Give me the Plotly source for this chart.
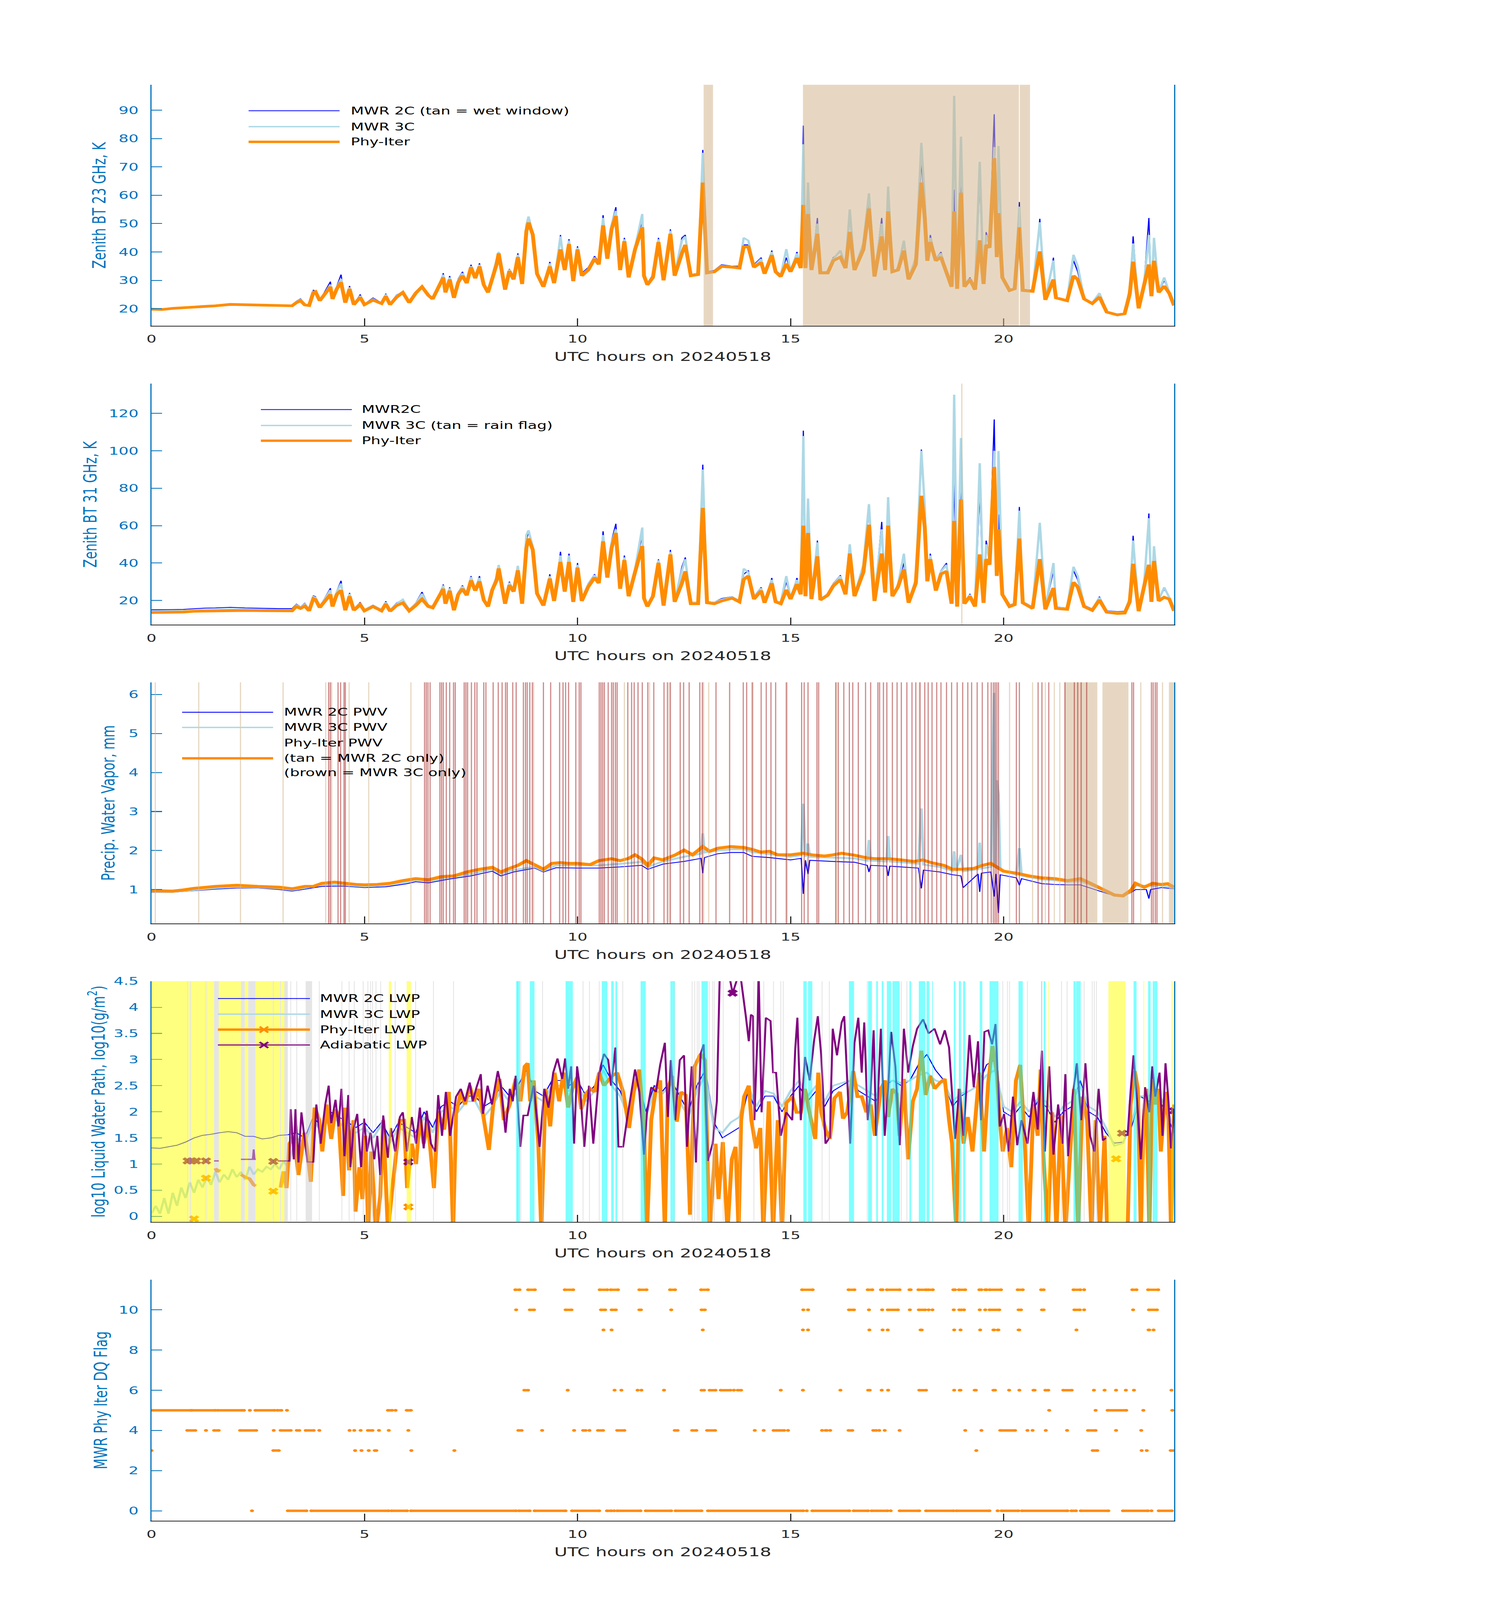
import plotly.graph_objects as go

# ======================= DATA =======================
T_BT = [
    0, 0.25, 0.5, 0.75, 1.0, 1.25, 1.5, 1.85, 2.2, 2.6,
    3.0, 3.3, 3.4, 3.5, 3.6, 3.7, 3.8, 3.85, 3.95, 4.05,
    4.2, 4.25, 4.35, 4.45, 4.55, 4.65, 4.75, 4.9, 5.0, 5.2,
    5.4, 5.5, 5.6, 5.75, 5.9, 6.05, 6.2, 6.35, 6.5, 6.6,
    6.75, 6.85, 6.9, 7.0, 7.1, 7.2, 7.3, 7.4, 7.5, 7.6,
    7.7, 7.8, 7.9, 8.0, 8.1, 8.15, 8.3, 8.4, 8.5, 8.6,
    8.7, 8.8, 8.85, 8.95, 9.05, 9.2, 9.35, 9.45, 9.6, 9.7,
    9.8, 9.9, 10.0, 10.1, 10.25, 10.4, 10.5, 10.6, 10.7, 10.8,
    10.9, 11.0, 11.1, 11.2, 11.35, 11.52, 11.56, 11.64, 11.77, 11.9,
    12.02, 12.18, 12.28, 12.45, 12.53, 12.66, 12.83, 12.94, 13.04, 13.21,
    13.38, 13.63, 13.8, 13.9, 14.01, 14.14, 14.31, 14.39, 14.56, 14.65,
    14.77, 14.9, 15.0, 15.15, 15.24, 15.3, 15.35, 15.41, 15.49, 15.63,
    15.7, 15.87, 16.0, 16.17, 16.29, 16.39, 16.5, 16.71, 16.84, 16.97,
    17.14, 17.22, 17.29, 17.39, 17.52, 17.66, 17.77, 17.94, 18.07, 18.15,
    18.21, 18.28, 18.41, 18.53, 18.66, 18.78, 18.84, 18.91, 19.0, 19.08,
    19.21, 19.33, 19.44, 19.53, 19.59, 19.67, 19.78, 19.84, 19.88, 19.97,
    20.14, 20.26, 20.37, 20.45, 20.68, 20.85, 20.98, 21.17, 21.23, 21.49,
    21.64, 21.74, 21.89, 22.08, 22.25, 22.42, 22.67, 22.84, 22.96, 23.04,
    23.17, 23.3, 23.41, 23.47, 23.53, 23.64, 23.77, 23.89, 24.0,
]

BT23_PHY = [
    19.8, 19.7, 20.1, 20.3, 20.6, 20.9, 21.0, 21.5, 21.4, 21.1,
    21.0, 21.0, 22.1, 22.8, 21.3, 21.1, 25.7, 26.0, 22.8, 24.7,
    27.7, 23.4, 27.0, 29.3, 22.1, 27.0, 21.4, 24.0, 21.4, 23.0,
    21.8, 24.4, 21.4, 24.0, 25.7, 22.1, 25.4, 27.7, 24.7, 23.4,
    27.7, 31.0, 25.7, 30.3, 23.8, 29.3, 31.6, 29.0, 34.6, 30.7,
    34.9, 28.4, 25.7, 31.0, 35.6, 39.5, 26.7, 33.3, 30.3, 38.2,
    28.7, 47.4, 50.4, 46.1, 32.3, 27.7, 34.9, 29.0, 40.9, 33.6,
    42.8, 29.7, 40.9, 31.6, 33.6, 37.6, 35.6, 49.4, 37.6, 48.1,
    52.7, 33.6, 43.8, 31.0, 40.9, 48.7, 31.6, 28.4, 31.0, 43.5,
    30.0, 46.4, 31.6, 39.5, 42.5, 31.6, 32.0, 64.5, 32.6, 33.0,
    34.9, 34.6, 34.3, 41.8, 41.8, 34.6, 36.3, 32.3, 38.9, 33.0,
    31.3, 35.9, 33.0, 37.9, 34.3, 56.6, 34.3, 53.4, 33.6, 46.4,
    32.6, 32.6, 36.9, 38.2, 34.3, 47.1, 33.6, 40.9, 55.3, 31.3,
    45.5, 33.6, 54.3, 33.0, 33.6, 40.5, 30.3, 35.6, 64.5, 52.0,
    36.9, 43.5, 36.9, 38.2, 32.3, 27.7, 54.3, 27.0, 60.9, 27.7,
    30.3, 26.7, 44.1, 28.7, 42.5, 41.5, 73.1, 38.2, 53.7, 31.0,
    26.4, 27.0, 48.7, 26.4, 26.1, 40.2, 23.1, 30.3, 23.8, 22.8,
    31.6, 30.3, 23.4, 21.8, 24.1, 18.8, 17.8, 18.2, 25.1, 36.6,
    20.1, 28.4, 35.6, 24.4, 36.9, 25.7, 28.0, 25.4, 21.1,
]

BT23_2C = [
    20.0, 19.9, 20.2, 20.5, 20.8, 21.0, 21.2, 21.7, 21.5, 21.2,
    21.1, 21.2, 22.6, 23.5, 21.5, 21.3, 26.5, 26.3, 23.0, 25.5,
    29.5, 23.8, 28.0, 32.0, 22.3, 28.0, 21.5, 25.0, 21.6, 23.8,
    22.0, 25.3, 21.6, 24.8, 26.0, 22.5, 26.0, 28.0, 25.0, 23.8,
    28.5, 32.5, 26.0, 31.5, 24.2, 30.5, 33.0, 29.5, 35.5, 31.5,
    36.0, 29.0, 26.0, 32.0, 37.0, 40.0, 27.0, 34.0, 31.0, 39.5,
    29.5, 50.0, 52.5, 47.0, 33.0, 28.0, 36.5, 29.5, 46.0, 34.5,
    44.5, 30.0, 42.0, 32.5, 34.5, 38.5, 36.5, 53.0, 38.5, 50.0,
    55.8, 34.5, 45.0, 31.5, 42.0, 51.0, 32.0, 29.0, 32.0, 45.0,
    30.5, 48.0, 32.5, 45.0, 46.0, 32.0, 32.5, 76.0, 33.0, 33.5,
    35.5, 35.0, 35.0, 42.5, 42.5, 35.5, 38.0, 33.0, 40.5, 33.5,
    32.0, 38.0, 33.5, 40.0, 35.0, 84.6, 35.0, 58.0, 34.0, 52.0,
    33.0, 33.0, 38.0, 40.0, 35.0, 52.0, 34.0, 42.0, 58.0, 32.0,
    52.0, 34.0, 60.0, 33.5, 34.0, 43.0, 30.5, 37.0, 72.0, 55.0,
    37.5, 46.0, 37.5, 40.0, 33.0, 28.0, 62.0, 27.5, 65.0, 28.0,
    31.0, 27.0, 65.0, 29.0, 47.0, 43.0, 88.6, 40.0, 70.0, 31.5,
    26.8, 27.3, 57.6, 26.8, 26.5, 51.7, 23.5, 38.0, 24.0, 23.0,
    37.0, 33.0, 23.8, 22.0, 25.0, 19.0, 18.0, 18.4, 26.0, 45.5,
    20.3, 30.0, 52.0, 24.8, 44.0, 26.0, 30.0, 25.8, 21.3,
]

BT23_3C = [
    19.9, 19.8, 20.1, 20.4, 20.7, 21.0, 21.1, 21.6, 21.5, 21.1,
    21.0, 21.1, 22.4, 23.2, 21.4, 21.2, 26.0, 26.2, 22.9, 25.0,
    28.5, 23.6, 27.5, 30.5, 22.2, 27.5, 21.5, 24.5, 21.5, 23.4,
    21.9, 25.0, 21.5, 24.5, 26.0, 22.3, 25.8, 28.0, 24.8, 23.6,
    28.0, 32.0, 25.8, 31.0, 24.0, 30.0, 32.5, 29.2, 35.0, 31.0,
    35.5, 28.6, 25.8, 31.5, 36.5, 40.0, 26.8, 33.8, 30.6, 39.0,
    29.0, 49.5, 52.5, 46.5, 32.6, 27.9, 36.0, 29.2, 45.5, 34.0,
    44.0, 29.9, 41.5, 32.0, 34.0, 38.0, 36.0, 52.0, 38.0, 49.5,
    54.5, 34.0, 44.5, 31.2, 41.5, 53.4, 31.8, 28.7, 31.5, 44.5,
    30.2, 47.5, 32.0, 44.0, 45.5, 31.8, 32.3, 75.0, 32.8, 33.2,
    35.2, 34.8, 34.6, 45.0, 44.0, 35.0, 37.5, 32.6, 40.0, 33.2,
    31.6, 41.0, 33.3, 39.5, 34.8, 78.0, 34.8, 64.5, 33.8, 50.0,
    32.8, 32.8, 37.5, 40.5, 34.8, 55.0, 33.8, 43.0, 60.7, 31.6,
    50.0, 33.8, 63.1, 33.2, 34.0, 44.0, 30.5, 38.0, 78.5, 58.0,
    37.2, 45.0, 37.2, 39.5, 32.6, 28.0, 95.1, 27.3, 80.7, 28.0,
    30.6, 27.0, 71.8, 29.0, 46.0, 42.5, 77.0, 38.5, 77.4, 31.2,
    26.6, 27.2, 56.0, 26.6, 26.3, 50.5, 23.3, 37.0, 24.0, 23.0,
    39.0, 35.0, 23.6, 22.0, 25.5, 19.0, 18.0, 18.3, 27.0, 43.0,
    20.3, 29.5, 46.0, 24.6, 45.0, 26.0, 31.0, 25.6, 21.2,
]

BT31_PHY = [
    13.5, 13.5, 13.6, 13.8, 14.2, 14.3, 14.4, 14.7, 14.6, 14.5,
    14.4, 14.4, 16.7, 15.7, 17.0, 14.4, 21.0, 20.5, 16.2, 19.2,
    23.2, 16.7, 23.2, 25.4, 14.7, 22.2, 14.7, 17.7, 14.4, 16.7,
    14.4, 18.2, 14.2, 17.2, 18.7, 14.4, 17.2, 20.7, 16.7, 16.0,
    21.7, 26.2, 18.2, 25.2, 14.7, 23.2, 26.2, 22.7, 30.7, 25.2,
    30.2, 20.2, 16.7, 25.7, 30.7, 37.1, 18.2, 28.2, 24.7, 36.1,
    18.2, 48.1, 53.1, 47.1, 23.7, 17.2, 31.7, 19.7, 40.6, 24.7,
    40.6, 19.2, 37.6, 19.7, 27.2, 32.2, 29.2, 51.6, 32.2, 48.1,
    56.1, 26.2, 41.6, 22.2, 35.1, 49.1, 21.2, 16.7, 22.2, 40.1,
    17.2, 44.6, 19.2, 29.2, 35.6, 18.2, 18.2, 69.5, 18.7, 18.2,
    19.7, 21.2, 19.2, 31.2, 33.1, 20.7, 25.2, 18.7, 29.2, 19.2,
    18.2, 25.7, 20.7, 28.7, 23.2, 60.0, 22.2, 56.1, 20.7, 43.6,
    20.2, 22.7, 27.7, 31.2, 23.2, 45.1, 22.2, 35.1, 60.5, 19.7,
    45.1, 24.2, 60.0, 22.2, 27.2, 36.6, 18.7, 29.2, 76.0, 59.0,
    30.2, 42.1, 25.2, 34.1, 35.6, 18.2, 62.5, 16.7, 74.0, 18.2,
    22.2, 16.7, 44.6, 18.7, 42.1, 39.1, 91.4, 33.1, 58.0, 23.2,
    16.7, 17.7, 53.1, 18.7, 15.7, 42.1, 15.2, 26.7, 15.7, 15.2,
    29.7, 27.2, 16.7, 14.7, 20.2, 13.7, 13.0, 13.2, 19.2, 39.6,
    14.2, 27.2, 39.1, 19.2, 41.1, 19.7, 21.7, 20.7, 14.4,
]

BT31_2C = [
    15.0, 15.0, 15.1, 15.2, 15.6, 15.9, 16.0, 16.3, 16.0, 15.8,
    15.6, 15.6, 18.0, 16.5, 18.5, 15.4, 22.5, 22.0, 17.0, 20.5,
    26.5, 17.5, 25.0, 30.5, 15.5, 24.0, 15.5, 19.0, 15.2, 17.5,
    15.2, 19.5, 15.0, 18.5, 20.5, 15.2, 18.5, 24.5, 17.5, 16.8,
    23.0, 28.5, 19.0, 27.0, 15.5, 24.5, 28.0, 24.0, 33.0, 26.5,
    33.0, 21.0, 17.5, 27.0, 33.0, 39.0, 19.0, 30.0, 25.5, 38.0,
    19.0, 52.0, 57.0, 49.0, 25.0, 18.0, 34.0, 20.5, 46.0, 26.0,
    45.0, 20.0, 40.0, 21.0, 29.0, 34.0, 30.5, 57.0, 34.0, 52.0,
    61.0, 27.5, 44.0, 23.0, 37.0, 55.0, 22.0, 17.5, 23.0, 42.0,
    18.0, 47.0, 20.0, 38.0, 43.0, 19.0, 19.0, 92.6, 19.5, 19.0,
    21.0, 22.0, 20.0, 34.0, 36.0, 22.0, 27.0, 19.5, 32.0, 20.0,
    19.0, 30.0, 21.5, 32.0, 24.5, 110.8, 23.0, 64.0, 21.5, 52.0,
    21.0, 23.5, 29.0, 33.5, 24.0, 46.0, 23.0, 38.0, 68.0, 20.5,
    62.0, 25.0, 72.0, 23.0, 28.5, 40.0, 19.5, 32.0, 100.7, 67.0,
    31.5, 45.0, 26.5, 36.0, 40.0, 19.0, 85.0, 17.5, 85.0, 19.0,
    23.5, 17.5, 78.0, 19.5, 52.0, 43.0, 116.8, 35.0, 66.0, 24.0,
    17.5, 18.5, 70.0, 19.5, 16.5, 60.0, 16.0, 36.0, 16.5, 16.0,
    36.0, 31.0, 17.5, 15.5, 22.0, 14.5, 14.0, 14.2, 20.5, 54.6,
    15.0, 30.0, 66.5, 20.0, 48.0, 20.5, 26.0, 22.0, 15.2,
]

BT31_3C = [
    14.3, 14.3, 14.4, 14.5, 14.8, 15.0, 15.1, 15.3, 15.2, 15.0,
    14.9, 14.9, 17.5, 16.2, 18.0, 15.0, 22.0, 21.5, 16.8, 20.0,
    25.5, 17.2, 24.5, 29.0, 15.2, 23.5, 15.2, 18.5, 15.0, 17.2,
    15.0, 19.0, 14.8, 18.0, 20.5, 15.0, 18.0, 23.5, 17.2, 16.5,
    22.5, 28.0, 18.8, 26.5, 15.2, 24.0, 27.5, 23.5, 32.5, 26.0,
    32.0, 20.8, 17.2, 26.5, 32.0, 39.0, 18.8, 29.5, 25.2, 38.5,
    18.8, 55.0, 57.5, 48.5, 24.5, 17.8, 33.0, 20.2, 44.0, 25.5,
    44.0, 19.8, 39.0, 20.5, 28.5, 33.5, 30.0, 55.0, 33.5, 51.0,
    58.0, 27.0, 43.0, 22.8, 36.5, 59.0, 21.8, 17.2, 22.8, 41.5,
    17.8, 46.0, 19.8, 36.0, 42.0, 18.8, 18.8, 90.0, 19.2, 18.8,
    20.5, 21.8, 19.8, 37.0, 35.0, 21.5, 26.5, 19.2, 31.0, 19.8,
    18.8, 33.0, 21.2, 31.0, 24.0, 108.0, 22.8, 74.5, 21.2, 51.0,
    20.8, 23.2, 28.5, 33.0, 23.8, 50.0, 22.8, 39.0, 71.5, 20.2,
    58.0, 24.8, 75.2, 22.8, 28.0, 45.0, 19.2, 31.0, 100.0, 70.0,
    31.0, 44.0, 26.0, 35.5, 39.0, 18.8, 130.0, 17.2, 106.9, 18.8,
    23.0, 17.2, 93.4, 19.2, 50.0, 42.0, 100.0, 34.5, 99.9, 23.8,
    17.2, 18.2, 68.0, 19.2, 16.2, 61.5, 15.8, 40.0, 16.2, 15.8,
    38.0, 33.0, 17.2, 15.2, 21.5, 14.2, 13.6, 13.8, 21.0, 52.0,
    14.8, 29.5, 64.0, 19.8, 49.0, 20.2, 27.0, 21.5, 14.9,
]

WET_WINDOW = [(12.96, 13.18), (15.29, 20.36), (20.38, 20.62)]
RAIN_FLAG_TIMES = [19.02]

T_PWV = [
    0, 0.5, 0.75, 1.0, 1.5, 2.0, 2.5, 3.0, 3.3, 3.6,
    3.8, 4.0, 4.3, 4.5, 4.8, 5.0, 5.3, 5.6, 5.9, 6.2,
    6.5, 6.8, 7.1, 7.4, 7.7, 8.0, 8.2, 8.4, 8.6, 8.8,
    9.0, 9.2, 9.4, 9.6, 9.8, 10.0, 10.3, 10.5, 10.8, 11.0,
    11.2, 11.35, 11.5, 11.65, 11.8, 12.0, 12.3, 12.5, 12.7, 12.94,
    13.1, 13.3, 13.6, 13.9, 14.1, 14.3, 14.5, 14.7, 15.0, 15.3,
    15.5, 15.8, 16.0, 16.2, 16.5, 16.8, 17.0, 17.3, 17.6, 17.9,
    18.1, 18.3, 18.6, 18.8, 19.0, 19.3, 19.5, 19.7, 19.85, 20.0,
    20.3, 20.6, 20.9, 21.2, 21.5, 21.8, 22.0, 22.3, 22.6, 22.8,
    23.0, 23.1, 23.3, 23.5, 23.7, 23.85, 24.0,
]
PWV_PHY = [
    0.97, 0.96, 0.99, 1.03, 1.08, 1.11, 1.08, 1.06, 1.02, 1.08,
    1.08, 1.16, 1.19, 1.16, 1.13, 1.12, 1.13, 1.16, 1.23, 1.28,
    1.25, 1.33, 1.35, 1.45, 1.52, 1.57, 1.45, 1.54, 1.62, 1.74,
    1.62, 1.52, 1.67, 1.69, 1.67, 1.67, 1.64, 1.74, 1.79, 1.74,
    1.80, 1.89, 1.79, 1.62, 1.81, 1.76, 1.89, 2.01, 1.89, 2.10,
    1.98, 2.06, 2.10, 2.08, 2.03, 1.96, 1.98, 1.89, 1.89, 1.93,
    1.89, 1.86, 1.89, 1.93, 1.88, 1.81, 1.79, 1.79, 1.76, 1.72,
    1.76, 1.69, 1.62, 1.52, 1.52, 1.54, 1.62, 1.67, 1.57, 1.47,
    1.42, 1.35, 1.30, 1.28, 1.23, 1.28, 1.18, 1.03, 0.86, 0.84,
    0.99, 1.16, 1.06, 1.16, 1.13, 1.15, 1.06,
]

T_PWV_2C = [
    0, 0.5, 1.0, 1.5, 2.0, 2.5, 3.0, 3.3, 3.6, 4.0,
    4.5, 5.0, 5.5, 6.0, 6.2, 6.5, 7.0, 7.5, 8.0, 8.2,
    8.5, 9.0, 9.2, 9.5, 10.0, 10.5, 11.0, 11.5, 11.65, 12.0,
    12.5, 12.9, 12.94, 12.98, 13.3, 13.6, 13.9, 14.1, 14.5, 15.0,
    15.25, 15.3, 15.35, 15.41, 15.45, 16.0, 16.5, 16.8, 16.84, 16.88,
    17.25, 17.29, 17.33, 17.6, 18.0, 18.07, 18.12, 18.5, 18.8, 19.0,
    19.05, 19.4, 19.44, 19.48, 19.7, 19.78, 19.82, 19.88, 19.92, 20.3,
    20.37, 20.42, 20.9, 21.2, 21.5, 21.8, 22.0, 22.3, 22.6, 22.8,
    23.0, 23.1, 23.35, 23.41, 23.45, 23.7, 24.0,
]
PWV_2C = [
    0.93, 0.93, 0.97, 1.01, 1.04, 1.04, 1.00, 0.96, 1.01, 1.08,
    1.09, 1.05, 1.07, 1.15, 1.20, 1.17, 1.27, 1.35, 1.47, 1.35,
    1.45, 1.55, 1.45, 1.56, 1.55, 1.55, 1.58, 1.62, 1.52, 1.65,
    1.72, 1.80, 1.42, 1.82, 1.92, 1.95, 1.95, 1.85, 1.82, 1.76,
    1.80, 0.89, 1.75, 1.40, 1.75, 1.72, 1.70, 1.62, 1.45, 1.62,
    1.60, 1.35, 1.60, 1.58, 1.55, 1.03, 1.50, 1.45, 1.38, 1.35,
    1.05, 1.40, 0.94, 1.42, 1.45, 0.82, 1.40, 0.40, 1.38, 1.30,
    1.11, 1.28, 1.15, 1.13, 1.12, 1.12, 1.05, 0.95, 0.84, 0.82,
    0.93, 1.00, 1.00, 0.77, 1.00, 1.05, 1.02,
]

T_PWV_3C = [
    0, 0.5, 1.0, 1.5, 2.0, 2.5, 3.0, 3.3, 3.6, 4.0,
    4.5, 5.0, 5.5, 6.0, 6.2, 6.5, 7.0, 7.5, 8.0, 8.2,
    8.5, 9.0, 9.2, 9.5, 10.0, 10.5, 11.0, 11.5, 11.65, 12.0,
    12.5, 12.9, 12.94, 12.98, 13.3, 13.6, 13.9, 14.1, 14.5, 15.0,
    15.25, 15.3, 15.35, 15.41, 15.45, 16.0, 16.5, 16.8, 16.84, 16.88,
    17.25, 17.29, 17.33, 17.6, 18.0, 18.07, 18.12, 18.5, 18.8, 18.84,
    18.88, 19.0, 19.05, 19.4, 19.44, 19.48, 19.7, 19.78, 19.8, 19.84,
    19.88, 19.92, 20.3, 20.37, 20.42, 20.9, 21.2, 21.5, 21.8, 22.0,
    22.3, 22.6, 22.8, 23.0, 23.1, 23.35, 23.41, 23.45, 23.7, 24.0,
]
PWV_3C = [
    0.95, 0.94, 0.99, 1.04, 1.07, 1.06, 1.03, 0.99, 1.04, 1.12,
    1.12, 1.08, 1.11, 1.19, 1.24, 1.21, 1.31, 1.40, 1.52, 1.40,
    1.50, 1.58, 1.48, 1.62, 1.62, 1.62, 1.66, 1.71, 1.58, 1.72,
    1.84, 1.92, 2.44, 1.95, 2.00, 2.03, 2.03, 1.96, 1.91, 1.84,
    1.88, 3.20, 1.84, 2.18, 1.84, 1.82, 1.80, 1.74, 2.27, 1.74,
    1.72, 2.37, 1.72, 1.70, 1.66, 3.08, 1.64, 1.58, 1.48, 1.98,
    1.47, 1.89, 1.47, 1.52, 2.20, 1.54, 1.58, 6.04, 1.60, 3.80,
    3.44, 1.52, 1.38, 2.06, 1.36, 1.26, 1.24, 1.20, 1.22, 1.14,
    1.00, 0.84, 0.82, 0.96, 1.10, 1.10, 1.12, 1.10, 1.10, 1.04,
]

PWV_TAN_LINES = [0.09, 1.11, 2.09, 3.09, 4.09, 4.23, 4.64, 5.10, 6.09, 8.97, 11.10,
                 11.69, 12.15, 12.96, 13.08, 14.12, 14.92, 16.08, 18.02, 20.14, 20.68,
                 20.98, 21.19, 21.32, 23.22, 23.73]
PWV_TAN_BANDS = [(21.43, 22.20), (22.32, 22.93), (23.88, 24.0)]
PWV_BROWN_LINES = [
    4.16, 4.20, 4.38, 4.44, 4.52, 4.55, 6.41, 6.45, 6.49, 6.54, 6.77, 6.81, 6.85,
    6.92, 7.00, 7.09, 7.13, 7.34, 7.38, 7.42, 7.51, 7.59, 7.64, 7.80, 7.85, 8.02,
    8.14, 8.23, 8.31, 8.35, 8.48, 8.56, 8.73, 8.78, 8.82, 8.88, 8.94, 9.20, 9.37,
    9.58, 9.66, 9.72, 9.79, 9.96, 10.04, 10.08, 10.51, 10.55, 10.59, 10.63, 10.72,
    10.80, 10.84, 10.89, 10.93, 11.18, 11.27, 11.33, 11.42, 11.52, 11.65, 11.79,
    12.03, 12.11, 12.18, 12.41, 12.49, 12.62, 12.87, 12.93, 13.25, 13.57, 13.89,
    13.97, 14.10, 14.31, 14.43, 14.54, 14.65, 14.90, 15.26, 15.32, 15.41, 15.62,
    15.66, 16.06, 16.12, 16.25, 16.38, 16.46, 16.59, 16.76, 16.88, 17.05, 17.09,
    17.18, 17.26, 17.39, 17.50, 17.60, 17.73, 17.85, 17.94, 18.04, 18.15, 18.23,
    18.32, 18.43, 18.53, 18.66, 18.78, 18.91, 19.04, 19.16, 19.25, 19.38, 19.50,
    19.63, 19.71, 19.76, 19.80, 19.84, 19.88, 20.30, 20.37, 20.81, 20.90, 21.06,
    21.44, 21.66, 21.74, 21.82, 21.95, 23.01, 23.05, 23.47, 23.51, 23.56, 23.60,
]

LWP_2C = [
    (0, 1.31), (0.2, 1.30), (0.4, 1.33), (0.6, 1.36), (0.8, 1.42), (1.0, 1.50), (1.2, 1.55),
    (1.4, 1.57), (1.6, 1.60), (1.8, 1.62), (2.0, 1.60), (2.2, 1.53), (2.4, 1.53), (2.6, 1.48),
    (2.8, 1.50), (3.0, 1.55), (3.2, 1.56), (3.4, 1.60), (3.6, 1.50), (3.8, 1.90), (4.0, 1.70),
    (4.2, 2.00), (4.4, 1.90), (4.6, 1.80), (4.8, 1.70), (5.0, 1.80), (5.2, 1.60), (5.4, 1.80),
    (5.6, 1.50), (5.8, 1.80), (6.0, 1.70), (6.2, 1.60), (6.4, 2.00), (6.6, 1.70), (6.8, 2.10),
    (7.0, 2.20), (7.2, 2.10), (7.4, 2.30), (7.6, 2.30), (7.8, 2.10), (8.0, 2.20), (8.2, 2.50),
    (8.4, 2.30), (8.6, 2.50), (8.8, 2.80), (9.0, 2.40), (9.2, 2.30), (9.4, 2.60), (9.6, 2.60),
    (9.8, 2.50), (10.0, 2.60), (10.2, 2.30), (10.4, 2.50), (10.6, 2.90), (10.8, 2.60), (11.0, 2.40),
    (11.2, 2.00), (11.4, 2.70), (11.6, 2.00), (11.8, 2.50), (12.0, 2.40), (12.2, 2.60), (12.4, 2.30),
    (12.6, 2.00), (12.8, 2.50), (13.0, 2.80), (13.2, 1.80), (13.4, 1.50), (13.6, 1.60), (13.8, 1.70),
    (14.0, 2.40), (14.2, 2.00), (14.4, 2.30), (14.6, 2.30), (14.8, 2.00), (15.0, 2.30), (15.2, 2.50),
    (15.4, 2.20), (15.6, 2.40), (15.8, 2.10), (16.0, 2.40), (16.2, 2.50), (16.4, 2.60), (16.6, 2.40),
    (16.8, 2.30), (17.0, 2.20), (17.2, 2.50), (17.4, 2.60), (17.6, 2.50), (17.8, 2.60), (18.0, 2.90),
    (18.2, 3.10), (18.4, 2.80), (18.6, 2.60), (18.8, 2.10), (19.0, 2.30), (19.2, 2.40), (19.4, 2.50),
    (19.6, 2.90), (19.8, 3.00), (20.0, 2.00), (20.2, 1.90), (20.4, 2.10), (20.6, 1.90), (20.8, 2.20),
    (21.0, 2.10), (21.2, 1.80), (21.4, 2.00), (21.6, 2.10), (21.8, 2.60), (22.0, 2.00), (22.2, 1.90),
    (22.4, 1.60), (22.6, 1.40), (22.8, 1.42), (23.0, 1.70), (23.2, 2.30), (23.4, 2.20), (23.6, 2.30),
    (23.8, 2.00), (24.0, 1.60),
]
LWP_3C = [
    (0, 0.05), (0.1, 0.20), (0.2, 0.05), (0.3, 0.35), (0.4, 0.05), (0.5, 0.45), (0.6, 0.20),
    (0.7, 0.55), (0.8, 0.35), (0.9, 0.65), (1.0, 0.45), (1.1, 0.70), (1.2, 0.55), (1.3, 0.75),
    (1.4, 0.60), (1.5, 0.85), (1.6, 0.65), (1.7, 0.80), (1.8, 0.70), (1.9, 0.90), (2.0, 0.75),
    (2.1, 0.85), (2.2, 0.70), (2.3, 0.95), (2.4, 0.80), (2.5, 0.90), (2.6, 0.85), (2.7, 0.95),
    (2.8, 0.90), (2.9, 1.00), (3.0, 0.90), (3.1, 1.05), (3.2, 0.95), (3.4, 1.50), (3.6, 1.40),
    (3.8, 1.85), (4.0, 1.60), (4.2, 1.95), (4.4, 1.80), (4.6, 1.65), (4.8, 1.60), (5.0, 1.70),
    (5.2, 1.50), (5.4, 1.75), (5.6, 1.40), (5.8, 1.70), (6.0, 1.60), (6.2, 1.50), (6.4, 1.90),
    (6.6, 1.60), (6.8, 2.00), (7.0, 2.10), (7.2, 2.00), (7.4, 2.20), (7.6, 2.20), (7.8, 1.90),
    (8.0, 2.10), (8.2, 2.40), (8.4, 2.20), (8.6, 2.40), (8.8, 2.75), (9.0, 2.30), (9.2, 2.20),
    (9.4, 2.50), (9.6, 2.50), (9.8, 2.40), (10.0, 2.50), (10.2, 2.20), (10.4, 2.40), (10.6, 2.80),
    (10.8, 2.50), (11.0, 2.30), (11.2, 1.90), (11.4, 2.60), (11.6, 1.90), (11.8, 2.40), (12.0, 2.35),
    (12.2, 2.55), (12.4, 2.20), (12.6, 1.90), (12.8, 2.40), (13.0, 2.70), (13.2, 1.70), (13.4, 1.60),
    (13.6, 1.80), (13.8, 1.90), (14.0, 2.50), (14.2, 2.10), (14.4, 2.40), (14.6, 2.35), (14.8, 2.10),
    (15.0, 2.40), (15.2, 2.60), (15.4, 2.30), (15.6, 2.50), (15.8, 2.20), (16.0, 2.50), (16.2, 2.55),
    (16.4, 2.60), (16.6, 2.50), (16.8, 2.40), (17.0, 2.30), (17.2, 2.55), (17.4, 2.60), (17.6, 2.55),
    (17.8, 2.60), (18.0, 2.70), (18.2, 2.75), (18.4, 2.60), (18.6, 2.55), (18.8, 2.20), (19.0, 2.35),
    (19.2, 2.40), (19.4, 2.50), (19.6, 2.70), (19.8, 2.80), (20.0, 2.10), (20.2, 2.00), (20.4, 2.20),
    (20.6, 2.00), (20.8, 2.25), (21.0, 2.20), (21.2, 1.90), (21.4, 2.10), (21.6, 2.20), (21.8, 2.50),
    (22.0, 2.10), (22.2, 2.00), (22.4, 1.70), (22.6, 1.35), (22.8, 1.40), (23.0, 1.80), (23.2, 2.30),
    (23.4, 2.30), (23.6, 2.40), (23.8, 2.10), (24.0, 1.70),
]
LWP_PHY = [
    (1.50, 0.92), (1.55, 0.85), (1.60, 0.90), (1.62, None),
    (2.10, 0.80), (2.20, 0.75), (2.30, 0.72), (2.40, 0.60), (2.45, 0.58), (2.50, None),
    (3.03, 0.55), (3.10, 0.86), (3.17, 0.54), (3.24, 1.39), (3.34, 1.54), (3.45, 0.79),
    (3.59, 1.60), (3.66, 1.24), (3.74, 0.66), (3.83, 2.08), (3.94, 1.84), (4.01, 1.24),
    (4.11, 2.14), (4.22, 1.48), (4.32, 2.05), (4.39, 1.90), (4.50, 0.39), (4.55, 2.08),
    (4.64, 0.88), (4.74, 1.84), (4.79, 0.09), (4.88, 0.94), (4.95, 0.33), (5.02, 1.54),
    (5.09, -0.3), (5.16, 1.24), (5.27, -0.3), (5.37, 0.39), (5.44, 1.84), (5.55, -0.3),
    (5.65, 0.51), (5.72, 1.06), (5.83, 1.84), (5.93, 1.84), (6.00, 0.54), (6.11, 1.39),
    (6.21, 1.00), (6.30, 1.90), (6.39, 1.39), (6.49, 1.78), (6.63, 0.54), (6.73, 1.99),
    (6.87, 1.66), (6.98, 2.38), (7.08, -0.3), (7.15, 1.96), (7.26, 2.38), (7.36, 2.14),
    (7.47, 2.50), (7.57, 2.20), (7.68, 2.44), (7.78, 1.96), (7.92, 1.27), (8.03, 2.20),
    (8.17, 2.63), (8.27, 1.84), (8.41, 2.14), (8.55, 2.63), (8.66, 2.20), (8.76, 2.87),
    (8.83, 2.93), (8.89, 2.20), (8.97, 2.60), (9.08, 1.39), (9.15, -0.3), (9.25, 2.44),
    (9.36, 1.72), (9.46, 2.75), (9.57, 2.20), (9.67, 2.75), (9.78, 2.08), (9.88, 2.44),
    (9.99, 2.66), (10.09, 2.05), (10.20, 2.35), (10.30, 2.44), (10.40, 2.38), (10.51, 2.75),
    (10.62, 2.50), (10.72, 2.60), (10.82, 2.69), (10.93, 2.75), (11.07, 2.38), (11.21, 1.69),
    (11.32, 2.38), (11.45, 2.81), (11.56, 1.69), (11.63, -0.3), (11.73, 1.84), (11.84, 2.44),
    (11.94, 2.60), (12.05, -0.3), (12.12, 2.44), (12.22, 2.69), (12.33, 1.81), (12.43, 2.38),
    (12.54, 2.32), (12.64, 0.03), (12.75, 2.87), (12.89, 3.11), (12.99, 2.99), (13.10, -0.3),
    (13.24, 1.39), (13.31, 0.33), (13.41, 1.42), (13.52, -0.3), (13.62, 1.09), (13.71, 1.33),
    (13.78, -0.3), (13.84, 1.84), (13.91, 2.29), (14.02, 2.50), (14.08, 1.84), (14.19, 1.30),
    (14.29, 1.69), (14.36, -0.3), (14.49, 2.20), (14.59, -0.3), (14.70, 1.84), (14.80, -0.3),
    (14.90, 2.17), (15.04, 2.29), (15.14, 1.99), (15.24, 1.99), (15.34, 2.44), (15.45, 1.96),
    (15.58, 1.48), (15.65, 2.75), (15.72, 1.99), (15.82, 1.66), (15.92, 1.48), (16.03, 2.26),
    (16.16, 2.38), (16.23, 1.87), (16.33, 1.99), (16.47, 2.78), (16.57, 2.29), (16.67, 2.29),
    (16.78, 1.99), (16.88, 2.14), (16.98, 1.54), (17.12, 2.44), (17.22, 2.60), (17.29, 1.90),
    (17.39, 2.44), (17.49, 2.35), (17.56, 1.54), (17.66, 2.63), (17.76, 1.09), (17.87, 2.20),
    (17.97, 2.44), (18.07, 3.17), (18.17, 2.32), (18.28, 2.69), (18.38, 2.44), (18.51, 2.56),
    (18.62, 2.63), (18.72, 1.84), (18.79, 1.39), (18.89, -0.3), (18.96, 2.44), (19.06, 1.39),
    (19.16, 1.90), (19.27, 1.24), (19.33, 1.84), (19.43, 2.75), (19.54, 1.24), (19.64, 2.56),
    (19.74, 3.26), (19.84, 2.75), (19.91, 1.84), (19.98, 1.24), (20.08, 1.69), (20.18, 0.94),
    (20.29, 2.60), (20.39, 2.90), (20.49, 1.54), (20.59, -0.3), (20.70, 2.14), (20.80, 1.54),
    (20.87, 2.81), (20.93, 1.24), (21.04, -0.3), (21.14, 1.99), (21.24, -0.3), (21.34, 1.93),
    (21.45, -0.3), (21.55, 1.24), (21.65, 2.44), (21.75, -0.3), (21.85, 2.29), (21.96, 1.84),
    (22.06, -0.3), (22.16, 1.84), (22.26, -0.3), (22.37, 1.54), (22.43, -0.3), (22.60, None),
    (22.91, -0.3), (22.98, 2.14), (23.08, 2.78), (23.15, 2.44), (23.22, -0.3), (23.29, 1.84),
    (23.35, 2.44), (23.42, -0.3), (23.49, 2.60), (23.56, 2.14), (23.63, 2.44), (23.69, 1.24),
    (23.80, 2.38), (23.87, 1.84), (23.93, -0.3), (24.00, 2.14),
]
LWP_ADI = [
    (1.47, 1.06), (1.58, 1.06), (1.60, None),
    (2.10, 1.09), (2.38, 1.09), (2.40, 1.28), (2.42, 1.09), (2.45, 1.09), (2.50, None),
    (2.96, 1.06), (3.24, 1.06), (3.27, 2.05), (3.34, 1.09), (3.38, 2.05), (3.45, 1.03),
    (3.52, 1.99), (3.66, 1.04), (3.80, 1.04), (3.87, 2.14), (3.97, 1.39), (4.08, 2.14),
    (4.16, 2.50), (4.22, 1.78), (4.32, 2.23), (4.39, 1.72), (4.46, 2.44), (4.53, 1.15),
    (4.62, 2.32), (4.67, 0.94), (4.74, 1.66), (4.83, 1.96), (4.92, 0.94), (4.99, 1.87),
    (5.06, 1.24), (5.14, 1.60), (5.23, 1.09), (5.30, 1.54), (5.37, 0.79), (5.44, 1.93),
    (5.55, 1.12), (5.62, 1.69), (5.72, 1.24), (5.83, 1.90), (5.90, 1.99), (6.00, 1.24),
    (6.11, 1.90), (6.21, 1.39), (6.30, 2.08), (6.39, 1.30), (6.46, 2.02), (6.56, 1.39),
    (6.66, 1.24), (6.73, 2.32), (6.82, 1.54), (6.91, 2.38), (7.01, 1.54), (7.08, 1.90),
    (7.15, 2.29), (7.26, 2.44), (7.36, 2.20), (7.47, 2.56), (7.54, 2.20), (7.63, 2.47),
    (7.73, 2.72), (7.78, 1.96), (7.89, 2.50), (7.99, 2.14), (8.13, 2.78), (8.20, 2.50),
    (8.31, 1.60), (8.41, 2.44), (8.48, 2.20), (8.55, 2.69), (8.66, 1.33), (8.73, 1.93),
    (8.83, 1.93), (8.97, 2.50), (9.11, 1.33), (9.22, 2.44), (9.32, 2.08), (9.43, 2.75),
    (9.53, 3.02), (9.64, 2.63), (9.71, 3.02), (9.78, 2.44), (9.85, 2.87), (9.92, 1.39),
    (9.99, 2.87), (10.06, 2.44), (10.16, 1.33), (10.27, 2.50), (10.37, 1.39), (10.51, 2.75),
    (10.62, 3.11), (10.72, 2.99), (10.79, 2.50), (10.89, 3.23), (10.96, 1.33), (11.07, 1.33),
    (11.17, 1.90), (11.35, 2.81), (11.45, 2.38), (11.56, 1.18), (11.63, 1.99), (11.73, 2.47),
    (11.84, 2.38), (11.94, 2.90), (12.05, 3.32), (12.12, 1.90), (12.19, 2.99), (12.29, 1.84),
    (12.40, 2.99), (12.50, 3.08), (12.57, 1.33), (12.68, 2.87), (12.78, 1.03), (12.89, 3.11),
    (12.96, 3.29), (13.06, 1.06), (13.17, 1.39), (13.27, 2.20), (13.34, 4.70), (13.45, 4.60),
    (13.54, 4.70), (13.64, 4.27), (13.81, 4.70), (13.95, 3.83), (14.02, 3.35), (14.07, 3.86),
    (14.12, 3.83), (14.15, 1.84), (14.22, 3.41), (14.25, 4.70), (14.32, 1.99), (14.42, 3.80),
    (14.53, 3.74), (14.59, 2.75), (14.66, 2.75), (14.77, 1.54), (14.90, 1.99), (15.04, 1.84),
    (15.11, 3.20), (15.16, 3.80), (15.24, 1.84), (15.34, 3.05), (15.45, 2.60), (15.55, 3.35),
    (15.64, 3.83), (15.72, 3.08), (15.82, 1.39), (15.92, 1.51), (15.99, 3.59), (16.09, 3.08),
    (16.20, 3.71), (16.26, 3.83), (16.33, 2.60), (16.40, 1.39), (16.50, 3.32), (16.59, 3.80),
    (16.67, 2.75), (16.73, 3.71), (16.81, 1.84), (16.88, 2.38), (16.95, 3.56), (17.01, 1.54),
    (17.12, 3.59), (17.21, 1.54), (17.29, 2.44), (17.36, 3.53), (17.46, 2.87), (17.56, 1.36),
    (17.66, 3.59), (17.76, 2.75), (17.87, 3.26), (17.97, 3.59), (18.11, 3.77), (18.24, 3.50),
    (18.38, 3.59), (18.51, 3.29), (18.62, 3.56), (18.72, 3.23), (18.86, 1.48), (18.96, 2.44),
    (19.06, 1.54), (19.20, 3.47), (19.30, 2.47), (19.40, 3.35), (19.47, 1.84), (19.55, 3.53),
    (19.64, 3.56), (19.73, 3.29), (19.81, 3.68), (19.91, 1.72), (20.01, 1.96), (20.12, 1.24),
    (20.22, 2.29), (20.32, 1.36), (20.42, 1.84), (20.56, 1.39), (20.70, 2.38), (20.80, 1.66),
    (20.90, 3.17), (20.97, 1.24), (21.07, 2.87), (21.17, 1.18), (21.28, 2.14), (21.38, 1.39),
    (21.45, 2.72), (21.51, 1.15), (21.62, 2.29), (21.72, 2.93), (21.82, 1.84), (21.92, 2.93),
    (22.03, 1.54), (22.13, 1.24), (22.23, 2.44), (22.33, 1.45), (22.40, 1.50), (22.50, None),
    (22.91, 1.54), (22.98, 2.38), (23.05, 3.08), (23.15, 1.99), (23.22, 1.09), (23.32, 2.47),
    (23.42, 1.99), (23.49, 2.87), (23.56, 2.29), (23.66, 2.75), (23.73, 1.54), (23.80, 2.93),
    (23.87, 2.20), (23.93, 1.30), (24.00, 2.02),
]
PHY_ISOLATED = [(1.00, -0.05), (1.28, 0.73), (2.86, 0.48), (6.03, 0.18), (22.64, 1.10)]
ADI_ISOLATED = [(0.85, 1.06), (0.95, 1.06), (1.05, 1.06), (1.28, 1.06), (2.86, 1.05),
                (6.03, 1.04), (13.64, 4.27), (22.78, 1.59), (24.0, 2.02)]

YELLOW_BANDS = [(0.0, 0.84), (0.86, 0.91), (0.93, 1.27), (1.29, 1.47), (1.58, 2.10),
                (2.19, 2.27), (2.44, 2.85), (2.87, 3.02), (3.04, 3.12), (5.57, 5.63),
                (5.99, 6.09), (21.05, 21.07), (22.46, 22.86), (23.28, 23.30), (23.94, 23.97)]
GRAY_BANDS = [(0.84, 0.86), (0.91, 0.93), (1.27, 1.29), (1.47, 1.58), (2.10, 2.19),
              (2.27, 2.44), (2.85, 2.87), (3.02, 3.04), (3.12, 3.20), (3.26, 3.28),
              (3.40, 3.42), (3.62, 3.77), (3.93, 3.95), (4.46, 4.48), (4.63, 4.65),
              (4.75, 4.77), (4.96, 4.98), (5.07, 5.09), (5.13, 5.15), (5.18, 5.20),
              (5.26, 5.28), (5.37, 5.39), (5.71, 5.73), (6.19, 6.21), (6.61, 6.63),
              (7.08, 7.10), (8.58, 8.60), (8.66, 8.68), (9.17, 9.19), (10.12, 10.14),
              (10.27, 10.29), (10.50, 10.52), (11.05, 11.07), (12.27, 12.29), (12.68, 12.70),
              (12.74, 12.76), (12.80, 12.82), (12.84, 12.86), (13.08, 13.10), (13.16, 13.18),
              (13.20, 13.22), (13.41, 13.43), (13.79, 13.81), (14.13, 14.15), (14.36, 14.38),
              (14.59, 14.61), (14.76, 14.78), (14.82, 14.84), (15.73, 15.75), (15.90, 15.92),
              (16.79, 16.81), (17.59, 17.61), (17.72, 17.74), (19.97, 19.99), (20.08, 20.10),
              (20.13, 20.15), (20.55, 20.57), (20.89, 20.91), (21.35, 21.37), (21.48, 21.50),
              (21.88, 21.90), (22.07, 22.09), (22.12, 22.14), (22.17, 22.19)]
CYAN_BANDS = [(8.56, 8.65), (8.88, 8.99), (9.72, 9.89), (10.57, 10.70), (10.79, 10.85),
              (10.89, 10.93), (11.48, 11.60), (12.18, 12.28), (12.91, 13.06), (15.30, 15.38),
              (15.41, 15.51), (16.37, 16.49), (16.82, 16.91), (17.01, 17.05), (17.14, 17.18),
              (17.26, 17.36), (17.39, 17.56), (17.79, 17.83), (18.01, 18.16), (18.19, 18.26),
              (18.32, 18.34), (18.83, 18.87), (18.95, 19.00), (19.05, 19.10), (19.44, 19.50),
              (19.67, 19.88), (20.35, 20.45), (20.88, 20.90), (20.94, 20.98), (21.64, 21.69),
              (21.70, 21.81), (23.05, 23.12), (23.39, 23.45), (23.50, 23.61)]

DQ0_RUNS = [(2.36, 2.36), (3.20, 3.64), (3.75, 5.57), (5.63, 6.00), (6.09, 8.56), (8.62, 8.88),
            (8.99, 9.72), (9.87, 10.51), (10.69, 10.80), (10.86, 10.86), (10.93, 11.48),
            (11.60, 12.20), (12.30, 12.91), (13.06, 15.30), (15.38, 15.38), (15.51, 16.38),
            (16.48, 16.82), (16.90, 17.28), (17.35, 17.35), (17.56, 18.02), (18.18, 18.83),
            (18.89, 19.67), (19.86, 19.86), (19.95, 20.35), (20.43, 21.50), (21.59, 21.70),
            (21.81, 22.46), (22.80, 23.39), (23.47, 23.47), (23.64, 23.95)]
DQ3_RUNS = [(0.0, 0.0), (2.86, 2.99), (4.78, 4.78), (4.93, 4.93), (5.10, 5.10), (5.24, 5.28),
            (6.10, 6.10), (7.11, 7.11), (19.36, 19.36), (22.09, 22.20), (23.24, 23.24),
            (23.36, 23.36), (23.92, 24.0)]
DQ4_RUNS = [(0.84, 1.03), (1.28, 1.28), (1.47, 1.58), (2.08, 2.46), (2.87, 2.87), (3.03, 3.27),
            (3.41, 3.47), (3.62, 3.81), (3.94, 3.94), (4.65, 4.65), (4.76, 4.76), (4.91, 4.91),
            (5.08, 5.19), (5.34, 5.34), (5.57, 5.57), (6.03, 6.03), (8.61, 8.69), (9.17, 9.17),
            (9.92, 9.92), (10.13, 10.19), (10.28, 10.28), (10.48, 10.60), (10.93, 11.10),
            (12.28, 12.35), (12.69, 12.79), (13.04, 13.23), (14.16, 14.16), (14.37, 14.37),
            (14.60, 14.68), (14.73, 14.85), (14.94, 14.94), (15.74, 15.74), (15.82, 15.85),
            (15.93, 15.93), (16.36, 16.45), (16.94, 17.01), (17.08, 17.08), (17.21, 17.21),
            (17.56, 17.56), (19.10, 19.10), (19.48, 19.48), (19.92, 20.27), (20.56, 20.56),
            (20.68, 20.68), (20.99, 20.99), (21.49, 21.49), (21.98, 22.16), (22.64, 22.64),
            (23.23, 23.23)]
DQ5_RUNS = [(0.0, 0.92), (0.94, 1.50), (1.55, 2.12), (2.17, 2.17), (2.31, 2.31), (2.44, 2.89),
            (2.95, 3.05), (3.18, 3.18), (5.55, 5.65), (5.73, 5.73), (5.99, 6.09), (21.07, 21.07),
            (22.16, 22.16), (22.44, 22.88), (23.28, 23.28), (23.96, 23.96)]
DQ6_RUNS = [(8.75, 8.84), (9.77, 9.77), (10.87, 10.87), (11.03, 11.03), (11.41, 11.41),
            (11.50, 11.50), (12.03, 12.03), (12.91, 12.97), (13.10, 13.24), (13.36, 13.59),
            (13.67, 13.67), (13.76, 13.84), (14.77, 14.77), (15.29, 15.29), (16.17, 16.17),
            (16.82, 16.86), (17.14, 17.14), (17.29, 17.29), (18.02, 18.18), (18.84, 18.84),
            (18.97, 18.99), (19.32, 19.35), (19.76, 19.80), (20.13, 20.13), (20.37, 20.37),
            (20.70, 20.73), (20.98, 21.05), (21.40, 21.60), (22.12, 22.12), (22.37, 22.37),
            (22.64, 22.64), (22.87, 22.87), (23.06, 23.06), (23.94, 23.94)]
DQ9_RUNS = [(10.61, 10.61), (10.80, 10.80), (12.94, 12.94), (15.29, 15.29), (15.41, 15.41),
            (16.85, 16.85), (17.16, 17.16), (17.28, 17.28), (18.05, 18.08), (18.84, 18.84),
            (18.99, 18.99), (19.45, 19.45), (19.76, 19.78), (19.86, 19.88), (20.35, 20.37),
            (21.71, 21.71), (23.40, 23.42), (23.52, 23.52)]
DQ10_RUNS = [(8.56, 8.56), (8.88, 8.98), (9.72, 9.86), (10.55, 10.65), (10.80, 10.90),
             (11.45, 11.49), (12.20, 12.20), (12.91, 12.99), (15.30, 15.30), (15.41, 15.41),
             (16.37, 16.49), (16.84, 16.84), (17.15, 17.15), (17.28, 17.52), (17.80, 17.80),
             (18.01, 18.16), (18.24, 18.24), (18.33, 18.33), (18.83, 18.83), (18.96, 19.01),
             (19.07, 19.07), (19.44, 19.44), (19.57, 19.57), (19.67, 19.90), (20.35, 20.41),
             (20.90, 20.94), (21.66, 21.79), (21.89, 21.89), (23.04, 23.04), (23.41, 23.60)]
DQ11_RUNS = [(8.54, 8.64), (8.84, 9.00), (9.70, 9.90), (10.52, 10.70), (10.78, 10.95),
             (11.45, 11.62), (12.17, 12.29), (12.90, 13.06), (15.27, 15.52), (16.36, 16.50),
             (16.81, 16.92), (17.12, 17.16), (17.26, 17.56), (17.79, 17.82), (18.00, 18.18),
             (18.23, 18.34), (18.82, 18.86), (18.95, 19.10), (19.43, 19.48), (19.57, 19.60),
             (19.67, 19.94), (20.33, 20.45), (20.88, 20.94), (21.64, 21.80), (21.89, 21.89),
             (23.02, 23.12), (23.39, 23.63)]
DQ_LEVELS = [0, 3, 4, 5, 6, 9, 10, 11]
DQ_RUNS = [DQ0_RUNS, DQ3_RUNS, DQ4_RUNS, DQ5_RUNS, DQ6_RUNS, DQ9_RUNS, DQ10_RUNS, DQ11_RUNS]

X_TICKS = [0, 5, 10, 15, 20]
XLABEL = "UTC hours on 20240518"

# ======================= STYLE / LAYOUT =======================
W, H = 3825, 6000
FONT = "DejaVu Sans, Verdana, sans-serif"
AXBLUE = "#0072BD"
DARK = "#262626"
BLUE = "#0000FF"
LBLUE = "#ADD8E6"
ORANGE = "#FF8C00"
PURPLE = "#800080"
TAN = "rgba(210,180,140,0.53)"
BROWN = "rgba(165,42,42,0.55)"
YEL = "rgba(255,255,0,0.5)"
CYA = "rgba(0,255,255,0.5)"
GRY = "rgba(204,204,204,0.5)"

XPX = (376, 3003)
PANEL_PX = [(296, 1203), (1421, 2329), (2546, 3454), (3671, 4578), (4795, 5703)]
YRANGES = [(14, 99), (7, 136), (0.13, 6.31), (-0.11, 4.5), (-0.5, 11.5)]
YTICKS = [list(range(20, 91, 10)), list(range(20, 121, 20)), [1, 2, 3, 4, 5, 6],
          [0, 0.5, 1, 1.5, 2, 2.5, 3, 3.5, 4, 4.5], [0, 2, 4, 6, 8, 10]]
YLABELS = ["Zenith BT 23 GHz, K", "Zenith BT 31 GHz, K", "Precip. Water Vapor, mm",
           "log10 Liquid Water Path, log10(g/m<sup>2</sup>)", "MWR Phy Iter DQ Flag"]
YLABEL_XPX = [241, 218, 264, 236, 245]

fig = go.Figure()
layout = dict(width=W, height=H, margin=dict(l=0, r=0, t=0, b=0, pad=0),
              paper_bgcolor="white", plot_bgcolor="white", showlegend=False)
annotations = []
shapes = []

for i, ((top, bot), yr, yt) in enumerate(zip(PANEL_PX, YRANGES, YTICKS)):
    n = "" if i == 0 else str(i + 1)
    layout["xaxis" + n] = dict(
        domain=[XPX[0] / W, XPX[1] / W], range=[0, 24], anchor="y" + n,
        tickvals=X_TICKS, ticks="inside", ticklen=27, tickwidth=3, tickcolor=DARK,
        showline=True, linecolor=DARK, linewidth=3, mirror=False,
        showgrid=False, zeroline=False, ticklabelstandoff=13,
        tickfont=dict(family=FONT, size=40, color=DARK))
    layout["yaxis" + n] = dict(
        domain=[1 - bot / H, 1 - top / H], range=list(yr), anchor="x" + n,
        tickvals=yt, ticks="inside", ticklen=27, tickwidth=3, tickcolor=AXBLUE,
        showline=True, linecolor=AXBLUE, linewidth=3, mirror=True,
        showgrid=False, zeroline=False, ticklabelstandoff=22,
        tickfont=dict(family=FONT, size=40, color=AXBLUE))
    annotations.append(dict(
        x=YLABEL_XPX[i] / W, y=1 - (top + bot) / 2 / H, xref="paper", yref="paper",
        text=YLABELS[i], textangle=-90, showarrow=False, xanchor="center", yanchor="middle",
        font=dict(family=FONT, size=47, color=AXBLUE)))
    annotations.append(dict(
        x=(XPX[0] + XPX[1]) / 2 / W, y=1 - (bot + 117) / H, xref="paper", yref="paper",
        text=XLABEL, showarrow=False, xanchor="center", yanchor="middle",
        font=dict(family=FONT, size=46, color=DARK)))


def ax(i):
    n = "" if i == 0 else str(i + 1)
    return "x" + n, "y" + n


def line(i, x, y, color, width):
    xa, ya = ax(i)
    fig.add_trace(go.Scatter(x=x, y=y, mode="lines", xaxis=xa, yaxis=ya,
                             line=dict(color=color, width=width), hoverinfo="skip"))


def band(i, x0, x1, color):
    xa, ya = ax(i)
    shapes.append(dict(type="rect", xref=xa, yref=ya + " domain", x0=x0, x1=x1, y0=0, y1=1,
                       fillcolor=color, line=dict(width=0), layer="above"))


def vline(i, x, color, width):
    xa, ya = ax(i)
    shapes.append(dict(type="line", xref=xa, yref=ya + " domain", x0=x, x1=x, y0=0, y1=1,
                       line=dict(color=color, width=width), layer="above"))


def seg(i, x0, y0, x1, y1, color, width):
    """Straight segment in axis-domain coordinates (legend glyphs)."""
    xa, ya = ax(i)
    shapes.append(dict(type="line", xref=xa + " domain", yref=ya + " domain",
                       x0=x0, x1=x1, y0=y0, y1=y1, line=dict(color=color, width=width),
                       layer="above"))


def leg_text(i, x, y, text, color="black", size=39):
    xa, ya = ax(i)
    annotations.append(dict(x=x, y=y, xref=xa + " domain", yref=ya + " domain", text=text,
                            showarrow=False, xanchor="left", yanchor="middle",
                            font=dict(family=FONT, size=size, color=color)))


line(0, T_BT, BT23_2C, BLUE, 3)
line(0, T_BT, BT23_3C, LBLUE, 6)
line(0, T_BT, BT23_PHY, ORANGE, 10)
for a, b in WET_WINDOW:
    band(0, a, b, TAN)

line(1, T_BT, BT31_2C, BLUE, 3)
line(1, T_BT, BT31_3C, LBLUE, 6)
line(1, T_BT, BT31_PHY, ORANGE, 10)
for t in RAIN_FLAG_TIMES:
    vline(1, t, TAN, 3)

line(2, T_PWV_2C, PWV_2C, BLUE, 3)
line(2, T_PWV_3C, PWV_3C, LBLUE, 7)
line(2, T_PWV, PWV_PHY, ORANGE, 11)
for a, b in PWV_TAN_BANDS:
    band(2, a, b, TAN)
for t in PWV_TAN_LINES:
    vline(2, t, TAN, 3)
for t in PWV_BROWN_LINES:
    vline(2, t, BROWN, 3)

line(3, [p[0] for p in LWP_2C], [p[1] for p in LWP_2C], BLUE, 3)
line(3, [p[0] for p in LWP_3C], [p[1] for p in LWP_3C], LBLUE, 6)
line(3, [p[0] for p in LWP_PHY], [p[1] for p in LWP_PHY], ORANGE, 10)
line(3, [p[0] for p in LWP_ADI], [p[1] for p in LWP_ADI], PURPLE, 5)
fig.add_trace(go.Scatter(x=[p[0] for p in PHY_ISOLATED], y=[p[1] for p in PHY_ISOLATED],
                         mode="markers", xaxis="x4", yaxis="y4", hoverinfo="skip",
                         marker=dict(symbol="x", size=24, color=ORANGE, line=dict(width=0))))
fig.add_trace(go.Scatter(x=[p[0] for p in ADI_ISOLATED], y=[p[1] for p in ADI_ISOLATED],
                         mode="markers", xaxis="x4", yaxis="y4", hoverinfo="skip",
                         marker=dict(symbol="x", size=24, color=PURPLE, line=dict(width=0))))
for a, b in YELLOW_BANDS:
    band(3, a, b, YEL)
for a, b in GRAY_BANDS:
    band(3, a, b, GRY)
for a, b in CYAN_BANDS:
    band(3, a, b, CYA)

for lvl, runs in zip(DQ_LEVELS, DQ_RUNS):
    xs, ys = [], []
    for a, b in runs:
        xs += [a, b, None]
        ys += [lvl, lvl, None]
    fig.add_trace(go.Scatter(x=xs, y=ys, mode="lines+markers", xaxis="x5", yaxis="y5",
                             hoverinfo="skip", line=dict(color=ORANGE, width=9),
                             marker=dict(color=ORANGE, size=10)))

# ---- hand-drawn legends (long line samples like the original) ----
LEG1 = [("MWR 2C (tan = wet window)", BLUE, 3), ("MWR 3C", LBLUE, 5), ("Phy-Iter", ORANGE, 9)]
for (txt, c, w), y in zip(LEG1, [0.892, 0.826, 0.763]):
    seg(0, 0.095, y, 0.184, y, c, w)
    leg_text(0, 0.194, y, txt)
LEG2 = [("MWR2C", BLUE, 3), ("MWR 3C (tan = rain flag)", LBLUE, 5), ("Phy-Iter", ORANGE, 9)]
for (txt, c, w), y in zip(LEG2, [0.892, 0.826, 0.763]):
    seg(1, 0.107, y, 0.196, y, c, w)
    leg_text(1, 0.205, y, txt)
seg(2, 0.030, 0.876, 0.119, 0.876, BLUE, 3)
seg(2, 0.030, 0.813, 0.119, 0.813, LBLUE, 5)
seg(2, 0.030, 0.685, 0.119, 0.685, ORANGE, 9)
for txt, y in zip(["MWR 2C PWV", "MWR 3C PWV", "Phy-Iter PWV", "(tan = MWR 2C only)",
                   "(brown = MWR 3C only)"], [0.876, 0.813, 0.748, 0.685, 0.626]):
    leg_text(2, 0.129, y, txt)
LEG4 = [("MWR 2C LWP", BLUE, 3, None), ("MWR 3C LWP", LBLUE, 5, None),
        ("Phy-Iter LWP", ORANGE, 9, ORANGE), ("Adiabatic LWP", PURPLE, 4, PURPLE)]
DX, DY = 11 / (XPX[1] - XPX[0]), 11 / (PANEL_PX[3][1] - PANEL_PX[3][0])
for (txt, c, w, mk), y in zip(LEG4, [0.928, 0.863, 0.799, 0.735]):
    seg(3, 0.065, y, 0.155, y, c, w)
    leg_text(3, 0.164, y, txt)
    if mk:
        seg(3, 0.11 - DX, y - DY, 0.11 + DX, y + DY, mk, 6)
        seg(3, 0.11 - DX, y + DY, 0.11 + DX, y - DY, mk, 6)

layout["shapes"] = shapes
layout["annotations"] = annotations
fig.update_layout(**layout)

# The page is laid out at 3825x6000; if the browser viewport is shorter, squeeze the
# whole figure vertically so every panel stays visible (no scrolling or cropping).
POST = ("var gd=document.getElementById('{plot_id}');"
        "document.documentElement.style.overflow='hidden';"
        "document.body.style.margin='0';document.body.style.overflow='hidden';"
        "var s=window.innerHeight/6000;"
        "if(s<1){gd.style.transformOrigin='0 0';gd.style.transform='scale(1,'+s+')';}")
fig.write_html("out.html", config={"displayModeBar": False, "staticPlot": True},
               post_script=POST)
